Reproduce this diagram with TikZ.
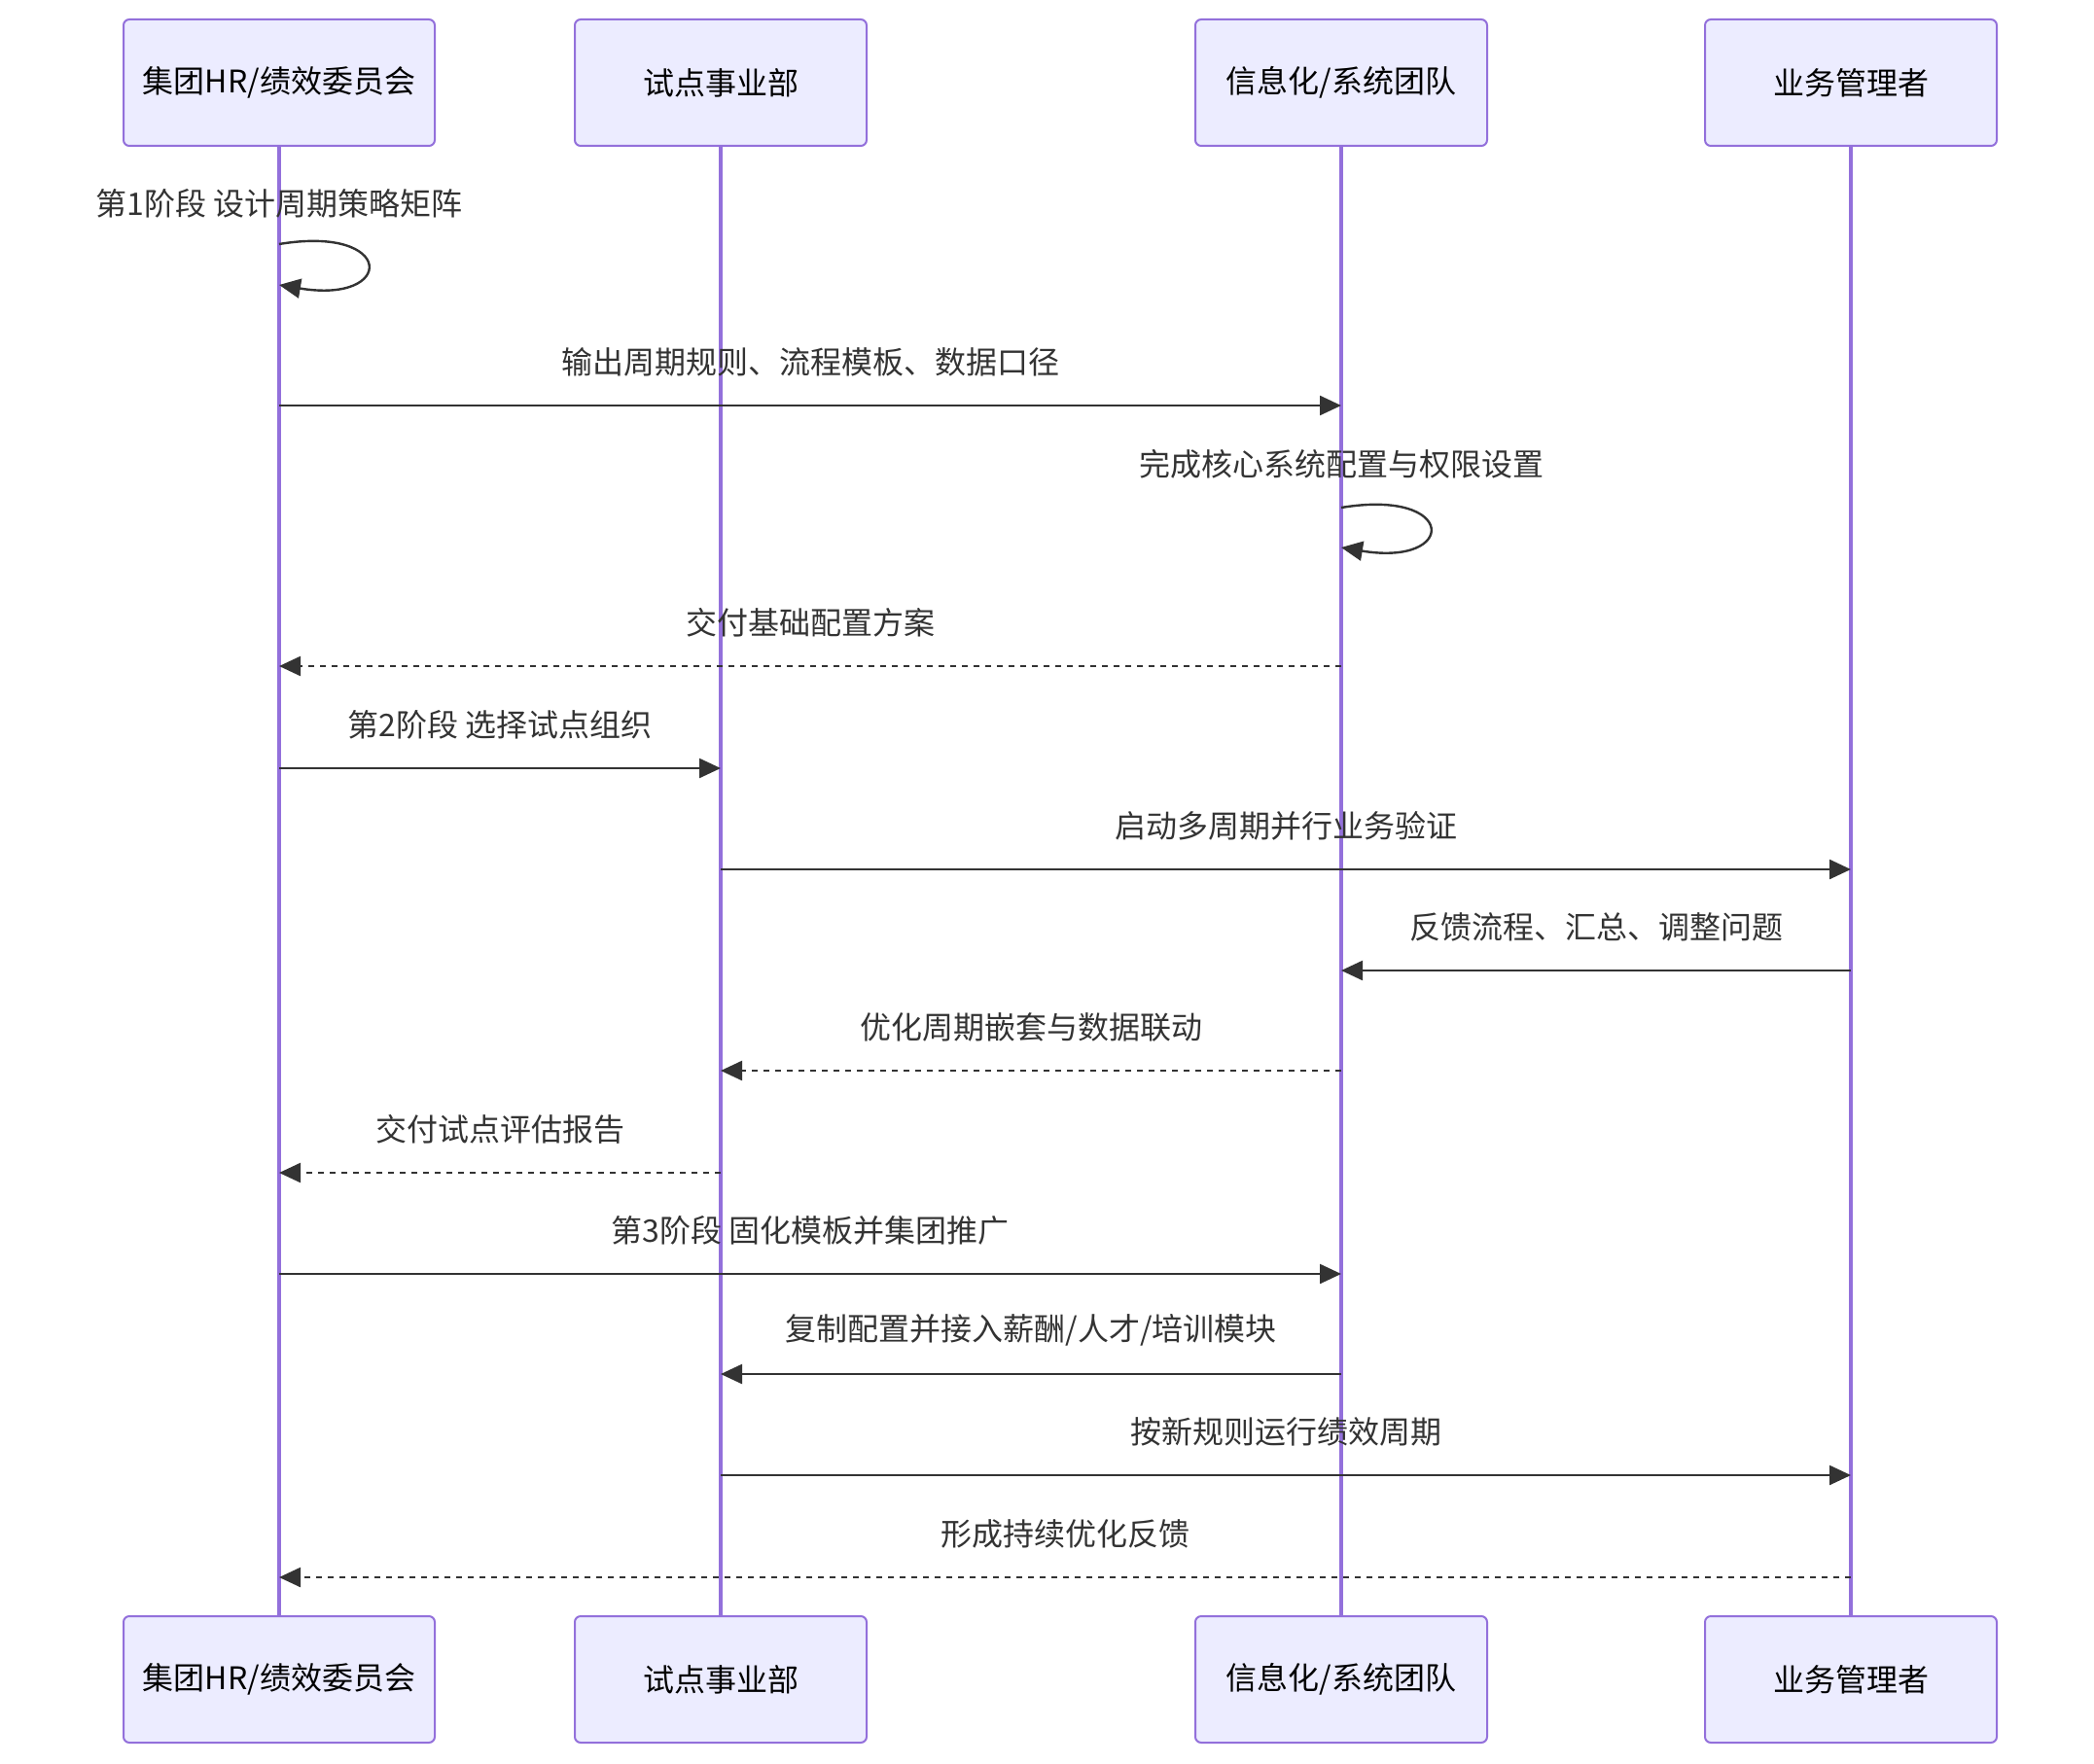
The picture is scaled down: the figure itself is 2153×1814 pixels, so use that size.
\documentclass[tikz,border=0pt]{standalone}
\usepackage{fontspec}
\setmainfont{Noto Sans CJK SC}
\usetikzlibrary{arrows.meta}
\definecolor{actfill}{HTML}{ECECFF}
\definecolor{actline}{HTML}{9370DB}
\definecolor{msgcol}{HTML}{333333}
\newcommand{\acttext}[1]{\raisebox{-1.5pt}{#1}}
\begin{document}
\begin{tikzpicture}[x=0.5pt,y=-0.5pt,
  actor/.style={draw=actline, fill=actfill, line width=1pt, rounded corners=3pt,
    minimum height=65pt, inner sep=0pt, font=\fontsize{16}{19}\selectfont, text=black},
  life/.style={draw=actline, line width=2pt},
  msg/.style={draw=msgcol, line width=1.2pt, -{Triangle[length=11pt,width=10pt]}},
  reply/.style={msg, dash pattern=on 3pt off 3pt},
  lbl/.style={font=\fontsize{16}{19}\selectfont, text=msgcol, inner sep=0pt},
  mlbl/.style={lbl, yshift=22.5pt}
]
\useasboundingbox (0,0) rectangle (2153,1814);

% actors top
\node[actor, minimum width=160pt] (a1t) at (287,85) {\acttext{集团HR/绩效委员会}};
\node[actor, minimum width=150pt] (a2t) at (741,85) {\acttext{试点事业部}};
\node[actor, minimum width=150pt] (a3t) at (1379,85) {\acttext{信息化/系统团队}};
\node[actor, minimum width=150pt] (a4t) at (1903,85) {\acttext{业务管理者}};
% actors bottom
\node[actor, minimum width=160pt] (a1b) at (287,1727) {\acttext{集团HR/绩效委员会}};
\node[actor, minimum width=150pt] (a2b) at (741,1727) {\acttext{试点事业部}};
\node[actor, minimum width=150pt] (a3b) at (1379,1727) {\acttext{信息化/系统团队}};
\node[actor, minimum width=150pt] (a4b) at (1903,1727) {\acttext{业务管理者}};

% lifelines
\draw[life] (a1t.south) -- (a1b.north);
\draw[life] (a2t.south) -- (a2b.north);
\draw[life] (a3t.south) -- (a3b.north);
\draw[life] (a4t.south) -- (a4b.north);

% message 1: self loop on A1
\node[lbl] (l1) at (a1t.south |- 0,209) {第1阶段 设计周期策略矩阵};
\coordinate (s1a) at (a1t.south |- 0,251);
\coordinate (s1b) at (a1t.south |- 0,293);
\draw[msg] (s1a) .. controls (407,231) and (407,313) .. (s1b);

% message 2
\coordinate (m2a) at (a1t.south |- 0,417);
\coordinate (m2b) at (a3t.south |- 0,417);
\draw[msg] (m2a) -- node[mlbl] {输出周期规则、流程模板、数据口径} (m2b);

% message 3: self loop on A3
\node[lbl] (l3) at (a3t.south |- 0,477) {完成核心系统配置与权限设置};
\coordinate (s3a) at (a3t.south |- 0,522);
\coordinate (s3b) at (a3t.south |- 0,563);
\draw[msg] (s3a) .. controls (1499,502) and (1499,583) .. (s3b);

% message 4
\coordinate (m4a) at (a3t.south |- 0,685);
\coordinate (m4b) at (a1t.south |- 0,685);
\draw[reply] (m4a) -- node[mlbl] {交付基础配置方案} (m4b);

% message 5
\coordinate (m5a) at (a1t.south |- 0,790);
\coordinate (m5b) at (a2t.south |- 0,790);
\draw[msg] (m5a) -- node[mlbl] {第2阶段 选择试点组织} (m5b);

% message 6
\coordinate (m6a) at (a2t.south |- 0,894);
\coordinate (m6b) at (a4t.south |- 0,894);
\draw[msg] (m6a) -- node[mlbl] {启动多周期并行业务验证} (m6b);

% message 7
\coordinate (m7a) at (a4t.south |- 0,998);
\coordinate (m7b) at (a3t.south |- 0,998);
\draw[msg] (m7a) -- node[mlbl] {反馈流程、汇总、调整问题} (m7b);

% message 8
\coordinate (m8a) at (a3t.south |- 0,1101);
\coordinate (m8b) at (a2t.south |- 0,1101);
\draw[reply] (m8a) -- node[mlbl] {优化周期嵌套与数据联动} (m8b);

% message 9
\coordinate (m9a) at (a2t.south |- 0,1206);
\coordinate (m9b) at (a1t.south |- 0,1206);
\draw[reply] (m9a) -- node[mlbl] {交付试点评估报告} (m9b);

% message 10
\coordinate (m10a) at (a1t.south |- 0,1310);
\coordinate (m10b) at (a3t.south |- 0,1310);
\draw[msg] (m10a) -- node[mlbl] {第3阶段 固化模板并集团推广} (m10b);

% message 11
\coordinate (m11a) at (a3t.south |- 0,1413);
\coordinate (m11b) at (a2t.south |- 0,1413);
\draw[msg] (m11a) -- node[mlbl] {复制配置并接入薪酬/人才/培训模块} (m11b);

% message 12
\coordinate (m12a) at (a2t.south |- 0,1517);
\coordinate (m12b) at (a4t.south |- 0,1517);
\draw[msg] (m12a) -- node[mlbl] {按新规则运行绩效周期} (m12b);

% message 13
\coordinate (m13a) at (a4t.south |- 0,1622);
\coordinate (m13b) at (a1t.south |- 0,1622);
\draw[reply] (m13a) -- node[mlbl] {形成持续优化反馈} (m13b);
\end{tikzpicture}
\end{document}
